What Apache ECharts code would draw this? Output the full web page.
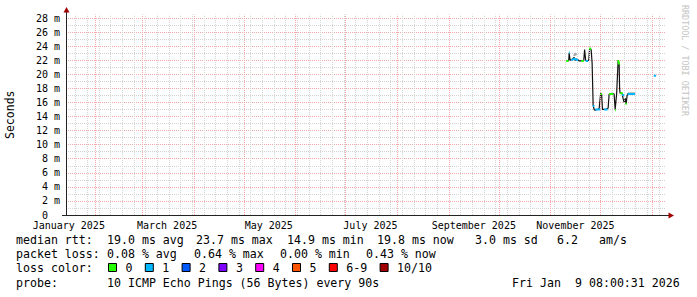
<!DOCTYPE html>
<html>
<head>
<meta charset="utf-8">
<script src="https://cdn.jsdelivr.net/npm/echarts@6.0.0/dist/echarts.min.js"></script>
<style>
html,body{margin:0;padding:0;background:#ffffff;}
#chart{width:697px;height:297px;}
</style>
</head>
<body>
<div id="chart"></div>
<script>
// ---------------- data ----------------
const rangeStart = '2025-01-14 08:00';
const rangeEnd = '2026-01-09 08:00';
const yMaxValue = 28.5;
const yLabelValues = [0, 2, 4, 6, 8, 10, 12, 14, 16, 18, 20, 22, 24, 26, 28];
const monthLabels = ['January 2025', 'March 2025', 'May 2025', 'July 2025', 'September 2025', 'November 2025'];
const monthLabelTimes = ['2025-01-16 00:00', '2025-03-16 00:00', '2025-05-16 00:00', '2025-07-16 00:00', '2025-09-16 00:00', '2025-11-16 00:00'];
const monthStarts = ['2025-02-01', '2025-03-01', '2025-04-01', '2025-05-01', '2025-06-01', '2025-07-01',
  '2025-08-01', '2025-09-01', '2025-10-01', '2025-11-01', '2025-12-01', '2026-01-01'];
const firstWeekLine = '2025-01-20';

// median rtt (ms)
const medianTimes = [
  '2025-11-10 10:00', '2025-11-11 08:00', '2025-11-12 00:00', '2025-11-12 05:00', '2025-11-12 20:00',
  '2025-11-14 00:00', '2025-11-15 05:00', '2025-11-15 20:00', '2025-11-17 00:00', '2025-11-18 05:00',
  '2025-11-20 00:00', '2025-11-21 00:00', '2025-11-21 12:00', '2025-11-22 03:00', '2025-11-23 00:00',
  '2025-11-24 00:00', '2025-11-24 12:00', '2025-11-25 10:00', '2025-11-26 00:00', '2025-11-26 15:00',
  '2025-11-27 05:00', '2025-11-27 20:00', '2025-11-29 00:00', '2025-11-30 05:00', '2025-12-01 03:00',
  '2025-12-01 17:00', '2025-12-02 05:00', '2025-12-03 05:00', '2025-12-04 10:00', '2025-12-05 15:00',
  '2025-12-06 05:00', '2025-12-08 00:00', '2025-12-09 05:00', '2025-12-09 20:00', '2025-12-10 17:00',
  '2025-12-11 15:00', '2025-12-12 05:00', '2025-12-12 12:00', '2025-12-12 19:00', '2025-12-14 00:00',
  '2025-12-14 15:00', '2025-12-15 05:00', '2025-12-15 19:00', '2025-12-16 10:00', '2025-12-17 00:00',
  '2025-12-17 15:00', '2025-12-18 19:00', '2025-12-20 00:00', '2025-12-21 19:00'
];
const medianValues = [
  21.9, 21.9, 22.0, 23.0, 22.0,
  22.1, 22.4, 22.0, 22.2, 21.9,
  21.9, 22.0, 23.5, 22.0, 21.9,
  22.0, 23.7, 23.5, 21.6, 15.6,
  15.0, 14.9, 15.0, 15.1, 17.3,
  17.2, 15.0, 15.0, 15.0, 15.2,
  17.2, 17.3, 17.2, 15.0, 17.2,
  22.0, 21.5, 18.0, 17.3, 17.3,
  16.5, 16.0, 16.6, 15.8, 17.0,
  17.3, 17.3, 17.3, 17.3
];

// loss-coloured pieces of the median line
const greenSegments = [
  [['2025-11-10 10:00', 21.9], ['2025-11-11 20:00', 21.9]],
  [['2025-11-19 12:00', 21.9], ['2025-11-21 00:00', 21.9]],
  [['2025-11-24 05:00', 23.7], ['2025-11-25 10:00', 23.6]],
  [['2025-11-25 22:00', 21.6], ['2025-11-26 08:00', 21.6]],
  [['2025-12-01 03:00', 17.2], ['2025-12-02 00:00', 17.2]],
  [['2025-12-06 05:00', 17.2], ['2025-12-08 18:00', 17.2]],
  [['2025-12-09 20:00', 14.9], ['2025-12-10 08:00', 14.9]],
  [['2025-12-11 15:00', 22.0], ['2025-12-12 05:00', 21.4]],
  [['2025-12-12 19:00', 17.3], ['2025-12-14 10:00', 17.3]],
  [['2025-12-16 00:00', 15.8], ['2025-12-16 20:00', 15.8]]
];
const cyanSegments = [
  [['2025-11-12 00:00', 23.1], ['2025-11-12 14:00', 23.1]],
  [['2025-11-13 12:00', 22.0], ['2025-11-15 05:00', 22.2], ['2025-11-17 12:00', 22.0]],
  [['2025-11-22 03:00', 21.9], ['2025-11-23 12:00', 21.9]],
  [['2025-11-26 15:00', 15.6], ['2025-11-27 05:00', 15.4]],
  [['2025-11-27 20:00', 15.0], ['2025-11-30 20:00', 15.0]],
  [['2025-12-03 05:00', 15.0], ['2025-12-05 05:00', 15.0]],
  [['2025-12-14 00:00', 17.1], ['2025-12-15 05:00', 17.0]],
  [['2025-12-17 06:00', 17.2], ['2025-12-21 19:00', 17.2]],
  [['2026-01-02 00:00', 19.8], ['2026-01-03 10:00', 19.8]]
];
const smokeSegments = [
  [['2025-11-15 05:00', 22.6], ['2025-11-15 20:00', 23.0], ['2025-11-16 12:00', 22.7]]
];

// legend texts
const rttLegend = ['median rtt:', '19.0 ms avg', '23.7 ms max', '14.9 ms min', '19.8 ms now', '3.0 ms sd', '6.2', 'am/s'];
const lossLegend = ['packet loss:', '0.08 % avg', '0.64 % max', '0.00 % min', '0.43 % now'];
const lossColorTitle = 'loss color:';
const lossClassLabels = ['0', '1', '2', '3', '4', '5', '6-9', '10/10'];
const lossClassColors = ['#26ff00', '#00b8ff', '#0059ff', '#7e00ff', '#ff00ff', '#ff5500', '#ff0000', '#a10000'];
const probeLegend = ['probe:', '10 ICMP Echo Pings (56 Bytes) every 90s'];
const dateStamp = ['Fri Jan', '9 08:00:31 2026'];
const watermark = 'RRDTOOL / TOBI OETIKER';
const yAxisTitle = 'Seconds';

// ---------------- layout ----------------
const GRID_LEFT = 66, GRID_WIDTH = 600, AXIS_Y = 215;
const PX_PER_UNIT = 197 / 28;
const GRID_HEIGHT = yMaxValue * PX_PER_UNIT;
const GRID_TOP = AXIS_Y - GRID_HEIGHT;
const MONO = '"DejaVu Sans Mono", "Liberation Mono", monospace';
const MAJOR_GRID = '#f0a8a8';
const MINOR_GRID = '#d4d4d4';
const rttLegendX = [16, 107, 196, 287, 377, 475, 557, 599];
const lossLegendX = [16, 107, 194, 280, 366];
const legendRowY = [240, 254, 268, 283];

function ts(s) {
  const [d, t] = s.split(' ');
  const [Y, M, D] = d.split('-').map(Number);
  let h = 0, mi = 0;
  if (t) { [h, mi] = t.split(':').map(Number); }
  return new Date(Y, M - 1, D, h, mi).getTime();
}
function segData(segs) {
  const out = [];
  segs.forEach((seg, i) => {
    seg.forEach(p => out.push([ts(p[0]), p[1]]));
    if (i < segs.length - 1) out.push([ts(seg[seg.length - 1][0]) + 3600000, '-']);
  });
  return out;
}
const monthTs = monthStarts.map(ts);
const weekLines = [];
for (let t = ts(firstWeekLine); t < ts(rangeEnd); t += 7 * 86400000) {
  const dt = new Date(t);
  const day = new Date(dt.getFullYear(), dt.getMonth(), dt.getDate()).getTime();
  if (monthTs.indexOf(day) < 0) weekLines.push(day);
}
const labelTs = monthLabelTimes.map(ts);

const graphics = [];
function txt(x, y, text, size, extra) {
  graphics.push(Object.assign({
    type: 'text', x: x, y: y, silent: true,
    style: { text: text, fontFamily: MONO, fontSize: size, fill: '#000', verticalAlign: 'middle', align: 'left' }
  }, extra || {}));
}
rttLegend.forEach((s, i) => txt(rttLegendX[i], legendRowY[0], s, 11.6));
lossLegend.forEach((s, i) => txt(lossLegendX[i], legendRowY[1], s, 11.6));
txt(16, legendRowY[2], lossColorTitle, 11.6);
let sx = 108;
lossClassLabels.forEach((lab, i) => {
  graphics.push({ type: 'rect', silent: true, shape: { x: sx + 0.5, y: legendRowY[2] - 4.5, width: 8, height: 8 },
    style: { fill: lossClassColors[i], stroke: '#000', lineWidth: 1 } });
  txt(sx + 17.5, legendRowY[2], lab, 11.6);
  sx = sx + 17.5 + lab.length * 7 + 12.3;
});
txt(16, legendRowY[3], probeLegend[0], 11.6);
txt(107, legendRowY[3], probeLegend[1], 11.6);
txt(680 - 24 * 7, legendRowY[3], dateStamp[0], 11.6);
txt(680 - 15 * 7, legendRowY[3], dateStamp[1], 11.6);
// watermark
graphics.push({ type: 'text', silent: true, x: 685, y: 5, rotation: -Math.PI / 2,
  style: { text: watermark, fontFamily: MONO, fontSize: 8.4, fill: '#c4c4c4', verticalAlign: 'middle', align: 'left' } });
// axis extensions and arrows
graphics.push({ type: 'line', silent: true, z: 10, shape: { x1: GRID_LEFT + 0.5, y1: GRID_TOP, x2: GRID_LEFT + 0.5, y2: 11 }, style: { stroke: '#222', lineWidth: 1 } });
graphics.push({ type: 'line', silent: true, z: 10, shape: { x1: 62, y1: AXIS_Y + 0.5, x2: GRID_LEFT, y2: AXIS_Y + 0.5 }, style: { stroke: '#222', lineWidth: 1 } });
graphics.push({ type: 'line', silent: true, z: 10, shape: { x1: GRID_LEFT + GRID_WIDTH, y1: AXIS_Y + 0.5, x2: 669, y2: AXIS_Y + 0.5 }, style: { stroke: '#222', lineWidth: 1 } });
graphics.push({ type: 'polygon', silent: true, z: 10, shape: { points: [[GRID_LEFT + 0.5, 7], [GRID_LEFT - 2.5, 12.5], [GRID_LEFT + 3.5, 12.5]] }, style: { fill: '#a00000' } });
graphics.push({ type: 'polygon', silent: true, z: 10, shape: { points: [[674, AXIS_Y + 0.5], [668.5, AXIS_Y - 2.5], [668.5, AXIS_Y + 3.5]] }, style: { fill: '#a00000' } });

const chart = echarts.init(document.getElementById('chart'), null, { renderer: 'svg', width: 697, height: 297 });
chart.setOption({
  animation: false,
  backgroundColor: '#ffffff',
  grid: { left: GRID_LEFT, top: GRID_TOP, width: GRID_WIDTH, height: GRID_HEIGHT, containLabel: false, outerBoundsMode: 'none' },
  xAxis: {
    type: 'value', min: ts(rangeStart), max: ts(rangeEnd), scale: true,
    axisLine: { show: true, lineStyle: { color: '#222', width: 1 } },
    axisTick: { show: false },
    splitLine: { show: false },
    axisLabel: {
      customValues: labelTs,
      formatter: function (v) { const i = labelTs.indexOf(v); return i >= 0 ? monthLabels[i] : ''; },
      fontFamily: MONO, fontSize: 10, color: '#000', margin: 5, hideOverlap: false,
      showMinLabel: true, showMaxLabel: true
    }
  },
  yAxis: [
    {
      type: 'value', min: 0, max: yMaxValue, interval: 1, position: 'left',
      axisLine: { show: false }, axisTick: { show: false }, axisLabel: { show: false },
      splitLine: { show: true, showMaxLine: false, showMinLine: false, lineStyle: { color: MINOR_GRID, type: [1, 1], width: 1 } }
    },
    {
      type: 'value', min: 0, max: yMaxValue, interval: 2, position: 'left',
      name: yAxisTitle, nameLocation: 'middle', nameGap: 50,
      nameTextStyle: { fontFamily: MONO, fontSize: 11.5, color: '#000' },
      axisLine: { show: true, lineStyle: { color: '#222', width: 1 } },
      axisTick: { show: false },
      axisLabel: {
        fontFamily: MONO, fontSize: 10, color: '#000', margin: 6,
        showMaxLabel: false,
        formatter: function (v) {
          if (yLabelValues.indexOf(v) < 0) return '';
          return v === 0 ? '{z|0}' : v + ' m';
        },
        rich: { z: { fontFamily: MONO, fontSize: 10, color: '#000', padding: [0, 12, 0, 0] } }
      },
      splitLine: { show: true, showMaxLine: false, showMinLine: false, lineStyle: { color: MAJOR_GRID, type: [1, 1], width: 1 } }
    }
  ],
  graphic: graphics,
  series: [
    {
      name: 'week grid', type: 'line', data: [], silent: true, z: 1, yAxisIndex: 1, color: MINOR_GRID,
      markLine: { silent: true, symbol: ['none', 'none'], label: { show: false }, animation: false,
        lineStyle: { color: MINOR_GRID, type: [1, 1], width: 1 },
        emphasis: { disabled: true },
        data: weekLines.map(t => ({ xAxis: t, lineStyle: { color: MINOR_GRID, type: [1, 1], width: 1 } })) }
    },
    {
      name: 'month grid', type: 'line', data: [], silent: true, z: 1, yAxisIndex: 1, color: MAJOR_GRID,
      markLine: { silent: true, symbol: ['none', 'none'], label: { show: false }, animation: false,
        lineStyle: { color: MAJOR_GRID, type: [1, 1], width: 1 },
        emphasis: { disabled: true },
        data: monthTs.map(t => ({ xAxis: t, lineStyle: { color: MAJOR_GRID, type: [1, 1], width: 1 } })) }
    },
    {
      name: 'smoke', type: 'line', yAxisIndex: 1, data: segData(smokeSegments), showSymbol: false, silent: true, z: 3,
      lineStyle: { color: '#aaaaaa', width: 2 }, connectNulls: false
    },
    {
      name: 'median', type: 'line', yAxisIndex: 1, data: medianTimes.map((t, i) => [ts(t), medianValues[i]]),
      showSymbol: false, silent: true, z: 4, lineStyle: { color: '#111111', width: 1.2 }
    },
    {
      name: 'loss 0', type: 'line', yAxisIndex: 1, data: segData(greenSegments), showSymbol: false, silent: true, z: 5,
      lineStyle: { color: lossClassColors[0], width: 2 }, connectNulls: false
    },
    {
      name: 'loss 1', type: 'line', yAxisIndex: 1, data: segData(cyanSegments), showSymbol: false, silent: true, z: 5,
      lineStyle: { color: lossClassColors[1], width: 2 }, connectNulls: false
    }
  ]
});
</script>
</body>
</html>
